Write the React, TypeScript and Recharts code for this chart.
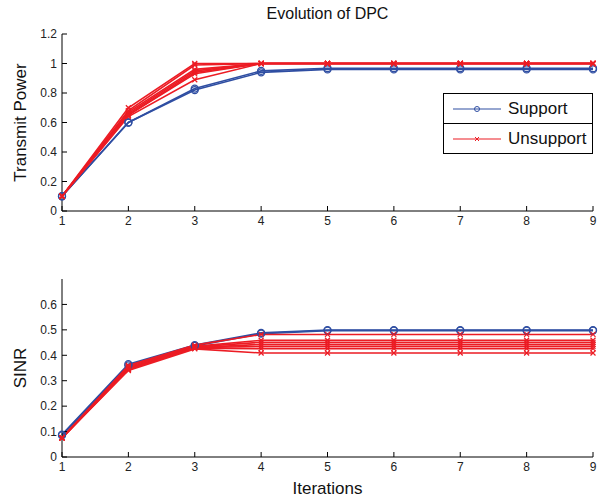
import { Line, LineChart, XAxis, YAxis } from 'recharts';

const iterations = [1, 2, 3, 4, 5, 6, 7, 8, 9];
const xTicks = [1, 2, 3, 4, 5, 6, 7, 8, 9];
const powerTicks = [0, 0.2, 0.4, 0.6, 0.8, 1, 1.2];
const sinrTicks = [0, 0.1, 0.2, 0.3, 0.4, 0.5, 0.6];

// transmit power per user
const powerSupport = [
  [0.1, 0.6, 0.82, 0.94, 0.96, 0.96, 0.96, 0.96, 0.96],
  [0.1, 0.6, 0.83, 0.95, 0.968, 0.968, 0.968, 0.968, 0.968],
];
const powerUnsupport = [
  [0.1, 0.7, 1.0, 1, 1, 1, 1, 1, 1],
  [0.1, 0.68, 0.99, 1, 1, 1, 1, 1, 1],
  [0.1, 0.67, 0.96, 1, 1, 1, 1, 1, 1],
  [0.1, 0.66, 0.95, 1, 1, 1, 1, 1, 1],
  [0.1, 0.65, 0.94, 1, 1, 1, 1, 1, 1],
  [0.1, 0.65, 0.93, 1, 1, 1, 1, 1, 1],
  [0.1, 0.64, 0.89, 1, 1, 1, 1, 1, 1],
];

// SINR per user
const sinrSupport = [
  [0.088, 0.365, 0.44, 0.488, 0.499, 0.499, 0.499, 0.499, 0.499],
  [0.085, 0.36, 0.437, 0.485, 0.497, 0.497, 0.497, 0.497, 0.497],
];
const sinrUnsupport = [
  [0.075, 0.36, 0.44, 0.482, 0.482, 0.482, 0.482, 0.482, 0.482],
  [0.075, 0.355, 0.435, 0.459, 0.459, 0.459, 0.459, 0.459, 0.459],
  [0.075, 0.35, 0.433, 0.451, 0.451, 0.451, 0.451, 0.451, 0.451],
  [0.075, 0.35, 0.43, 0.443, 0.443, 0.443, 0.443, 0.443, 0.443],
  [0.075, 0.345, 0.43, 0.435, 0.435, 0.435, 0.435, 0.435, 0.435],
  [0.075, 0.345, 0.428, 0.426, 0.426, 0.426, 0.426, 0.426, 0.426],
  [0.075, 0.34, 0.425, 0.409, 0.409, 0.409, 0.409, 0.409, 0.409],
];

const BLUE = '#2f4ea2';
const RED = '#ec1c24';
const FONT = '"Liberation Sans", Arial, sans-serif';

function buildRows(support: number[][], unsupport: number[][]) {
  return iterations.map((it, i) => {
    const row: Record<string, number> = { it };
    support.forEach((s, k) => (row['s' + k] = s[i]));
    unsupport.forEach((u, k) => (row['u' + k] = u[i]));
    return row;
  });
}

const powerRows = buildRows(powerSupport, powerUnsupport);
const sinrRows = buildRows(sinrSupport, sinrUnsupport);

const CircleDot = (props: any) => {
  const { cx, cy, index } = props;
  if (cx == null || cy == null) return <g key={index} />;
  return <circle key={index} cx={cx} cy={cy} r={3.5} fill="none" stroke={BLUE} strokeWidth={1.3} />;
};

const CrossDot = (props: any) => {
  const { cx, cy, index } = props;
  if (cx == null || cy == null) return <g key={index} />;
  const d = 2.5;
  return (
    <path
      key={index}
      d={`M${cx - d},${cy - d}L${cx + d},${cy + d}M${cx - d},${cy + d}L${cx + d},${cy - d}`}
      stroke={RED}
      strokeWidth={1.2}
    />
  );
};

const tickStyle = { fontSize: 12, fill: '#222', fontFamily: FONT };

function LegendBox() {
  const row = (label: string, color: string, marker: 'o' | 'x', last: boolean) => (
    <div
      style={{
        display: 'flex',
        alignItems: 'center',
        height: 29,
        borderBottom: last ? 'none' : '1px solid #000',
        fontFamily: FONT,
        fontSize: 17,
        color: '#111',
      }}
    >
      <svg width={58} height={20} style={{ marginLeft: 6 }}>
        <line x1={3} y1={10} x2={51} y2={10} stroke={color} strokeWidth={1.2} />
        {marker === 'o' ? (
          <circle cx={27} cy={10} r={2.5} fill="none" stroke={color} strokeWidth={1} />
        ) : (
          <path d="M25,8L29,12M25,12L29,8" stroke={color} strokeWidth={1} />
        )}
      </svg>
      <span>{label}</span>
    </div>
  );
  return (
    <div style={{ width: 148, border: '1px solid #000', background: '#fff' }}>
      {row('Support', BLUE, 'o', false)}
      {row('Unsupport', RED, 'x', true)}
    </div>
  );
}

function Panel({
  rows,
  nSupport,
  nUnsupport,
  domain,
  yTicks,
  yLabel,
  height,
  top,
  bottomHeight,
  xLabel,
}: {
  rows: Record<string, number>[];
  nSupport: number;
  nUnsupport: number;
  domain: [number, number];
  yTicks: number[];
  yLabel: string;
  height: number;
  top: number;
  bottomHeight: number;
  xLabel?: string;
}) {
  return (
    <LineChart
      width={612}
      height={height}
      data={rows}
      margin={{ top, right: 19, left: 0, bottom: 0 }}
      style={{ fontFamily: FONT }}
    >
      <XAxis
        dataKey="it"
        type="number"
        domain={[1, 9]}
        ticks={xTicks}
        interval={0}
        height={bottomHeight}
        tickSize={-5}
        tickMargin={10}
        tick={tickStyle}
        stroke="#000"
        label={
          xLabel
            ? { value: xLabel, position: 'insideBottom', offset: 3, fontSize: 17, fill: '#111', fontFamily: FONT }
            : undefined
        }
      />
      <XAxis
        xAxisId="top"
        orientation="top"
        dataKey="it"
        type="number"
        domain={[1, 9]}
        ticks={xTicks}
        interval={0}
        height={0}
        tickSize={-5}
        tick={false}
        stroke="#000"
      />
      <YAxis
        type="number"
        domain={domain}
        ticks={yTicks}
        interval={0}
        width={62}
        tickSize={-5}
        tickMargin={10}
        tick={tickStyle}
        stroke="#000"
        label={{
          value: yLabel,
          angle: -90,
          position: 'center',
          dx: -11,
          fontSize: 17,
          fill: '#111',
          fontFamily: FONT,
        }}
      />
      <YAxis
        yAxisId="right"
        orientation="right"
        type="number"
        domain={domain}
        ticks={yTicks}
        interval={0}
        width={0}
        tickSize={-5}
        tick={false}
        stroke="#000"
      />
      {Array.from({ length: nSupport }, (_, k) => (
        <Line
          key={'s' + k}
          dataKey={'s' + k}
          stroke={BLUE}
          strokeWidth={1.6}
          dot={CircleDot}
          isAnimationActive={false}
        />
      ))}
      {Array.from({ length: nUnsupport }, (_, k) => (
        <Line
          key={'u' + k}
          dataKey={'u' + k}
          stroke={RED}
          strokeWidth={1.6}
          dot={CrossDot}
          isAnimationActive={false}
        />
      ))}
    </LineChart>
  );
}

export default function App() {
  return (
    <div style={{ position: 'absolute', left: 0, top: 0, width: 612, height: 497, background: '#fff' }}>
      <div
        style={{
          position: 'absolute',
          left: 62,
          width: 531,
          top: 5,
          textAlign: 'center',
          fontFamily: FONT,
          fontSize: 16,
          color: '#111',
        }}
      >
        Evolution of DPC
      </div>
      <div style={{ position: 'absolute', left: 0, top: 0 }}>
        <Panel
          rows={powerRows}
          nSupport={powerSupport.length}
          nUnsupport={powerUnsupport.length}
          domain={[0, 1.2]}
          yTicks={powerTicks}
          yLabel="Transmit Power"
          height={235}
          top={34}
          bottomHeight={24}
        />
      </div>
      <div style={{ position: 'absolute', left: 443, top: 93 }}>
        <LegendBox />
      </div>
      <div style={{ position: 'absolute', left: 0, top: 245 }}>
        <Panel
          rows={sinrRows}
          nSupport={sinrSupport.length}
          nUnsupport={sinrUnsupport.length}
          domain={[0, 0.7]}
          yTicks={sinrTicks}
          yLabel="SINR"
          height={252}
          top={34}
          bottomHeight={40}
          xLabel="Iterations"
        />
      </div>
    </div>
  );
}
